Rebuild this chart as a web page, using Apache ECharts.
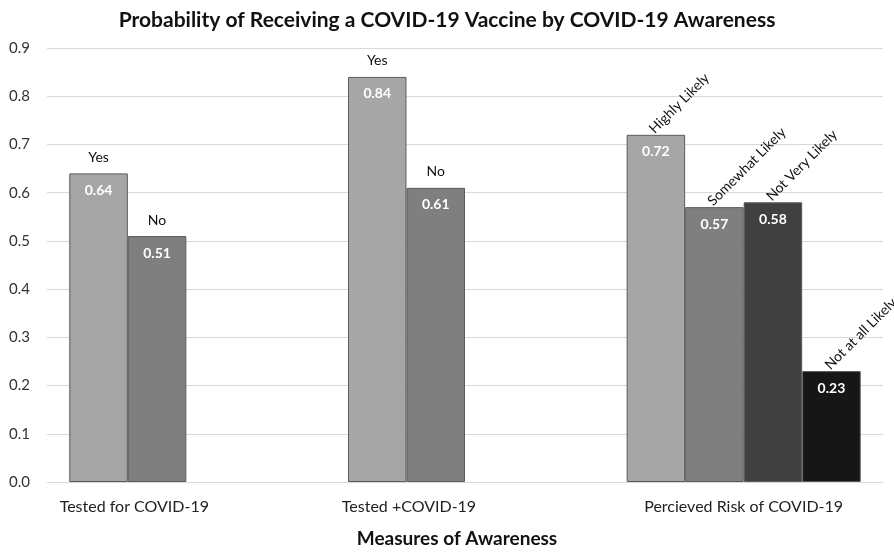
<!DOCTYPE html>
<html>
<head>
<meta charset="utf-8">
<script src="https://cdn.jsdelivr.net/npm/echarts@6/dist/echarts.min.js"></script>
<style>
  html, body { margin: 0; padding: 0; background: #fff; }
  #chart { width: 894px; height: 553px; }
</style>
</head>
<body>
<div id="chart"></div>
<script>
// Categories along the x axis
const categories = ['Tested for COVID-19', 'Tested +COVID-19', 'Percieved Risk of COVID-19'];

// One series per bar slot inside each group (null where the group has no bar)
const slot1Values = [0.64, 0.84, 0.72];
const slot2Values = [0.51, 0.61, 0.57];
const slot3Values = [null, null, 0.58];
const slot4Values = [null, null, 0.23];

// Response names drawn above each bar
const slot1Names = ['Yes', 'Yes', 'Highly Likely'];
const slot2Names = ['No', 'No', 'Somewhat Likely'];
const slot3Names = ['', '', 'Not Very Likely'];
const slot4Names = ['', '', 'Not at all Likely'];

const yTicks = [0, 0.1, 0.2, 0.3, 0.4, 0.5, 0.6, 0.7, 0.8, 0.9];

const FONT = 'Lato, "Open Sans", sans-serif';
const slotColors = ['#a6a6a6', '#7f7f7f', '#404040', '#161616'];
const slotValues = [slot1Values, slot2Values, slot3Values, slot4Values];
const slotNames = [slot1Names, slot2Names, slot3Names, slot4Names];

// Category labels of the first two groups sit left of their group centre
const categoryLabelPadding = [[0, 104, 0, 0], [0, 112, 0, 0], [0, 0, 0, 0]];

const barSeries = slotValues.map((vals, i) => ({
  type: 'bar',
  xAxisIndex: 0,
  data: vals,
  barGap: '0%',
  barCategoryGap: '16%',
  itemStyle: { color: slotColors[i], borderColor: '#5a5a5a', borderWidth: 1 },
  label: {
    show: true,
    position: 'insideTop',
    distance: 10,
    color: '#ffffff',
    fontFamily: FONT,
    fontWeight: 'bold',
    fontSize: 14,
    formatter: p => p.value == null ? '' : p.value.toFixed(2)
  },
  silent: true
}));

// Transparent twins that carry the response names above the bars
const nameSeries = slotValues.map((vals, i) => ({
  type: 'bar',
  xAxisIndex: 1,
  barGap: '0%',
  barCategoryGap: '16%',
  data: vals.map((v, j) => {
    const rotated = j === 2;
    return {
      value: v,
      label: rotated
        ? { rotate: 45, align: 'left', verticalAlign: 'middle', distance: 8, offset: [-6, 0] }
        : { rotate: 0, align: 'center', verticalAlign: 'bottom', distance: 9 }
    };
  }),
  itemStyle: { color: 'rgba(0,0,0,0)' },
  label: {
    show: true,
    position: 'top',
    color: '#111111',
    fontFamily: FONT,
    fontSize: 14,
    formatter: p => slotNames[i][p.dataIndex]
  },
  silent: true
}));

const chart = echarts.init(document.getElementById('chart'), null, { renderer: 'canvas' });
chart.setOption({
  animation: false,
  backgroundColor: '#ffffff',
  title: {
    text: 'Probability of Receiving a COVID-19 Vaccine by COVID-19 Awareness',
    left: 'center',
    top: 5,
    textStyle: { fontFamily: FONT, fontWeight: 'bold', fontSize: 21, color: '#111111' }
  },
  grid: { left: 47, right: 11, top: 48, bottom: 67, containLabel: false },
  xAxis: [
    {
      type: 'category',
      data: categories.map((c, k) => ({ value: c, textStyle: { padding: categoryLabelPadding[k] } })),
      axisLine: { show: false },
      axisTick: { show: false },
      axisLabel: { fontFamily: FONT, fontSize: 16, color: '#222222', margin: 17 },
      name: 'Measures of Awareness',
      nameLocation: 'middle',
      nameGap: 47,
      nameTextStyle: { fontFamily: FONT, fontWeight: 'bold', fontSize: 19, color: '#111111', padding: [0, 16, 0, 0] }
    },
    {
      type: 'category',
      data: categories,
      show: false
    }
  ],
  yAxis: {
    type: 'value',
    min: 0,
    max: yTicks[yTicks.length - 1],
    interval: 0.1,
    axisLine: { show: false },
    axisTick: { show: false },
    axisLabel: {
      fontFamily: FONT, fontSize: 15, color: '#333333', margin: 17,
      formatter: v => v.toFixed(1)
    },
    splitLine: { lineStyle: { color: '#d9d9d9', width: 1 } }
  },
  series: [...barSeries, ...nameSeries]
});
</script>
</body>
</html>
